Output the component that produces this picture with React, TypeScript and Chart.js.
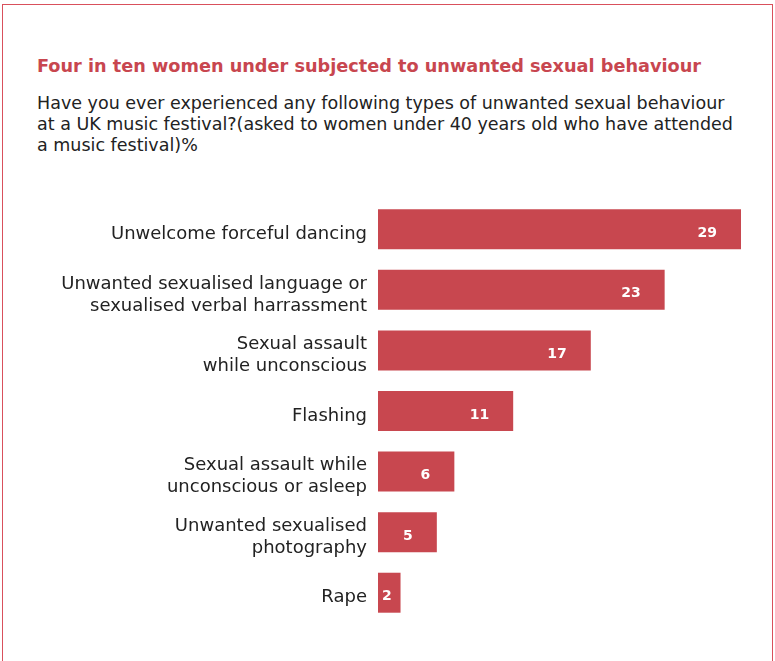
import React, { useEffect, useRef } from "react";
import { Chart, registerables } from "chart.js";

Chart.register(...registerables);

const categories: (string | string[])[] = [
  "Unwelcome forceful dancing",
  ["Unwanted sexualised language or", "sexualised verbal harrassment"],
  ["Sexual assault", "while unconscious"],
  "Flashing",
  ["Sexual assault while", "unconscious or asleep"],
  ["Unwanted sexualised", "photography"],
  "Rape",
];
// bar lengths (labels show the rounded figure)
const values: number[] = [29, 22.9, 17, 10.8, 6.1, 4.7, 1.8];
const valueLabels: string[] = ["29", "23", "17", "11", "6", "5", "2"];

const TITLE = "Four in ten women under subjected to unwanted sexual behaviour";
const SUBTITLE_LINES = [
  "Have you ever experienced any following types of unwanted sexual behaviour",
  "at a UK music festival?(asked to women under 40 years old who have attended",
  "a music festival)%",
];

const BAR_COLOR = "#C8474F";
const FONT = "'DejaVu Sans', sans-serif";

const labelsPlugin = {
  id: "labelsPlugin",
  afterDatasetsDraw(chart: any) {
    const ctx = chart.ctx;
    const meta = chart.getDatasetMeta(0);
    const yScale = chart.scales.y;
    ctx.save();
    // value labels inside bars
    ctx.font = `bold 14px ${FONT}`;
    ctx.fillStyle = "#ffffff";
    ctx.textAlign = "center";
    ctx.textBaseline = "middle";
    meta.data.forEach((bar: any, i: number) => {
      const text = valueLabels[i];
      const w = ctx.measureText(text).width;
      const x = Math.max(bar.x - 24 - w / 2, bar.base + 4 + w / 2);
      ctx.fillText(text, x, bar.y + 4);
    });
    // category labels
    ctx.font = `18px ${FONT}`;
    ctx.fillStyle = "#222222";
    ctx.textAlign = "right";
    ctx.textBaseline = "middle";
    const lh = 22;
    categories.forEach((c, i) => {
      const lines = Array.isArray(c) ? c : [c];
      const cy = yScale.getPixelForValue(i) + 5;
      const start = cy - ((lines.length - 1) * lh) / 2;
      lines.forEach((ln, j) => {
        ctx.fillText(ln, yScale.right - 11, start + j * lh);
      });
    });
    ctx.restore();
  },
};

export default function App() {
  const ref = useRef<HTMLCanvasElement>(null);
  useEffect(() => {
    document.body.style.margin = "0";
    const chart = new Chart(ref.current!, {
      type: "bar",
      data: {
        labels: categories,
        datasets: [
          {
            data: values,
            backgroundColor: BAR_COLOR,
            barPercentage: 0.66,
            categoryPercentage: 1,
          },
        ],
      },
      options: {
        indexAxis: "y",
        animation: false,
        responsive: false,
        maintainAspectRatio: false,
        layout: { padding: { left: 0, right: 34, top: 199, bottom: 38 } },
        plugins: {
          legend: { display: false },
          tooltip: { enabled: false },
          title: { display: false },
        },
        scales: {
          x: {
            display: false,
            min: 0,
            max: 29,
          },
          y: {
            afterFit(scale: any) {
              scale.width = 378;
            },
            grid: { display: false, drawTicks: false },
            border: { display: false },
            ticks: { display: false },
          },
        },
      },
      plugins: [labelsPlugin],
    });
    return () => chart.destroy();
  }, []);

  return (
    <div
      style={{
        position: "fixed",
        left: 0,
        top: 0,
        width: 775,
        height: 661,
        background: "#ffffff",
        overflow: "hidden",
      }}
    >
      <div
        style={{
          position: "absolute",
          left: 2,
          top: 4,
          width: 771,
          height: 700,
          border: "1px solid #D9505C",
          boxSizing: "border-box",
        }}
      />
      <div
        style={{
          position: "absolute",
          left: 37,
          top: 56,
          fontFamily: FONT,
          fontWeight: "bold",
          fontSize: 17.7,
          color: "#C8464F",
          whiteSpace: "nowrap",
        }}
      >
        {TITLE}
      </div>
      <div
        style={{
          position: "absolute",
          left: 37,
          top: 93,
          fontFamily: FONT,
          fontSize: 17.5,
          lineHeight: "21px",
          color: "#222222",
          whiteSpace: "nowrap",
        }}
      >
        {SUBTITLE_LINES.map((l, i) => (
          <div key={i}>{l}</div>
        ))}
      </div>
      <canvas
        ref={ref}
        width={775}
        height={661}
        style={{ position: "absolute", left: 0, top: 0, width: 775, height: 661 }}
      />
    </div>
  );
}
